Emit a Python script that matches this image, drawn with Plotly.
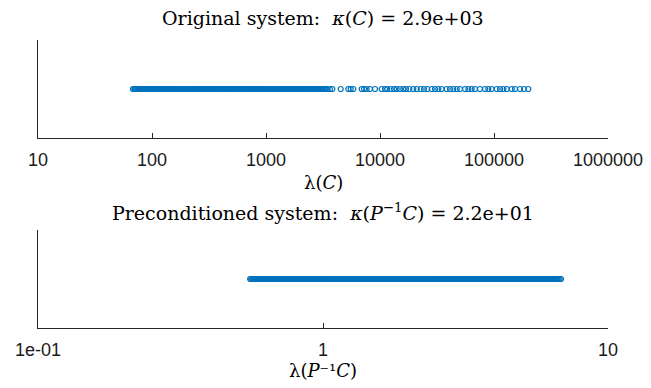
import plotly.graph_objects as go
from plotly.subplots import make_subplots

# Eigenvalues of the original system C
eig_C_dense = [68, 71, 73, 76, 79, 82, 85, 88, 92, 95, 99, 103, 107, 111, 116, 120, 125, 130,
               136, 141, 147, 153, 159, 166, 172, 180, 187, 195, 203, 211, 220, 229, 239, 249,
               259, 270, 281, 293, 305, 318, 331, 345, 359, 374, 390, 406, 423, 441, 459, 478,
               498, 519, 541, 563, 587, 611, 637, 663, 691, 720, 750, 781, 814, 848, 883, 920,
               958, 998, 1040, 1083, 1128, 1175, 1224, 1275, 1328, 1384, 1441, 1501, 1564, 1629,
               1697, 1768, 1842, 1918, 1998, 2082, 2168, 2259, 2353, 2451, 2553, 2660, 2770,
               2886, 3006, 3132, 3262, 3430]
eig_C_dense_b = [70, 72, 75, 78, 81, 84, 87, 90, 94, 97, 101, 105, 109, 114, 118, 123, 128,
                 133, 139, 144, 150, 156, 163, 169, 176, 184, 191, 199, 207, 216, 225, 234,
                 244, 254, 265, 276, 287, 299, 312, 325, 338, 352, 367, 382, 398, 415, 432,
                 450, 469, 488, 509, 530, 552, 575, 599, 624, 650, 677, 706, 735, 766, 798,
                 831, 866, 902, 939, 978, 1019, 1062, 1106, 1152, 1200, 1250, 1302, 1356, 1413,
                 1471, 1533, 1597, 1663, 1733, 1805, 1880, 1958, 2040, 2125, 2214, 2306, 2402,
                 2502, 2607, 2715, 2828, 2946, 3069, 3197, 3346]
eig_C_sparse = [3640, 3818, 4520, 5270, 5530, 5830, 6900, 7240, 7640, 8170, 9040, 10350,
                11070, 11590, 12410, 13270, 14000, 14960, 16000, 16900, 18070, 19590, 20990,
                22750, 24320, 26000, 28440, 30370, 32460, 34750, 38460, 41110, 43950, 47100,
                50350, 55700, 59560, 63680, 68080, 75340, 83370, 89130, 95490, 105660, 112980,
                120780, 129420, 143220, 152850, 169170, 183400, 199980]
eig_C = eig_C_dense + eig_C_dense_b + eig_C_sparse

# Eigenvalues of the preconditioned system P^-1 C
eig_PC_a = [0.555, 0.564, 0.573, 0.583, 0.592, 0.602, 0.612, 0.622, 0.632, 0.642, 0.653, 0.663,
            0.674, 0.685, 0.696, 0.708, 0.719, 0.731, 0.743, 0.755, 0.767, 0.780, 0.793, 0.805,
            0.819, 0.832, 0.846, 0.859, 0.873, 0.888, 0.902, 0.917, 0.932, 0.947, 0.962, 0.978,
            0.994, 1.010, 1.027, 1.044, 1.061, 1.078, 1.096, 1.113, 1.132, 1.150, 1.169, 1.188,
            1.207, 1.227, 1.247, 1.267, 1.288, 1.309, 1.330, 1.352, 1.374, 1.397, 1.419, 1.443,
            1.466, 1.490, 1.514, 1.539, 1.564, 1.590, 1.616, 1.642, 1.669, 1.696, 1.724, 1.752,
            1.780, 1.809, 1.839, 1.869, 1.899, 1.930, 1.962, 1.994, 2.026, 2.059, 2.093, 2.127,
            2.162, 2.197, 2.233, 2.269, 2.306, 2.344, 2.382, 2.421, 2.460, 2.500, 2.541, 2.583,
            2.625, 2.668, 2.711, 2.755, 2.800, 2.846, 2.892, 2.939, 2.987, 3.036, 3.085, 3.136,
            3.187, 3.239, 3.291, 3.345, 3.400, 3.455, 3.511, 3.569, 3.627, 3.686, 3.746, 3.807,
            3.869, 3.932, 3.996, 4.061, 4.127, 4.195, 4.263, 4.332, 4.403, 4.475, 4.548, 4.622,
            4.697, 4.774, 4.851, 4.930, 5.011, 5.093, 5.176, 5.260, 5.346, 5.433, 5.521, 5.611,
            5.703, 5.796, 5.890, 5.986, 6.084, 6.183, 6.284, 6.386, 6.490, 6.596, 6.704, 6.840]
eig_PC_b = [0.5595, 0.5685, 0.578, 0.5875, 0.597, 0.607, 0.617, 0.627, 0.637, 0.6475, 0.658,
            0.6685, 0.6795, 0.6905, 0.702, 0.7135, 0.725, 0.737, 0.749, 0.761, 0.7735, 0.7865,
            0.799, 0.812, 0.8255, 0.839, 0.8525, 0.866, 0.8805, 0.895, 0.9095, 0.9245, 0.9395,
            0.9545, 0.970, 0.986, 1.002, 1.0185, 1.0355, 1.0525, 1.0695, 1.087, 1.1045, 1.1225,
            1.141, 1.1595, 1.1785, 1.1975, 1.217, 1.237, 1.257, 1.2775, 1.2985, 1.3195, 1.341,
            1.363, 1.3855, 1.408, 1.431, 1.4545, 1.478, 1.502, 1.5265, 1.5515, 1.577, 1.603,
            1.629, 1.6555, 1.6825, 1.710, 1.738, 1.766, 1.7945, 1.824, 1.854, 1.884, 1.9145,
            1.946, 1.978, 2.010, 2.0425, 2.076, 2.110, 2.1445, 2.1795, 2.215, 2.251, 2.2875,
            2.325, 2.363, 2.4015, 2.4405, 2.480, 2.5205, 2.562, 2.604, 2.6465, 2.6895, 2.733,
            2.7775, 2.823, 2.869, 2.9155, 2.963, 3.0115, 3.0605, 3.1105, 3.1615, 3.213, 3.265,
            3.318, 3.3725, 3.4275, 3.483, 3.540, 3.598, 3.6565, 3.716, 3.7765, 3.838, 3.9005,
            3.964, 4.0285, 4.094, 4.161, 4.229, 4.2975, 4.3675, 4.439, 4.5115, 4.585, 4.6595,
            4.7355, 4.8125, 4.8905, 4.9705, 5.052, 5.1345, 5.218, 5.303, 5.3895, 5.477, 5.566,
            5.657, 5.7495, 5.843, 5.938, 6.035, 6.1335, 6.2335, 6.335, 6.438, 6.543, 6.650,
            6.772]
eig_PC = eig_PC_a + eig_PC_b

top_tickvals = [10, 100, 1000, 10000, 100000, 1000000]
top_ticktext = ["10", "100", "1000", "10000", "100000", "1000000"]
bot_tickvals = [0.1, 1, 10]
bot_ticktext = ["1e-01", "1", "10"]

title_top = "Original system:  <i>κ</i>(<i>C</i>) = 2.9e+03"
title_bot = "Preconditioned system:  <i>κ</i>(<i>P</i><sup>−1</sup><i>C</i>) = 2.2e+01"
xlab_top = "λ(<i>C</i>)"
xlab_bot = "λ(<i>P</i>⁻¹<i>C</i>)"

BLUE = "#0072BD"
AX = "#262626"
SERIF = "DejaVu Serif, Liberation Serif, serif"
SANS = "Liberation Sans, Arial, sans-serif"

# page body has an 8px margin: figure drawn 635x372 so the page fits the 651x388 window
W, H = 635, 372
L, R, T = 30, 35, 32
PB = 320               # plot-area bottom (px from figure top)
B = H - PB
PH = PB - T            # plot-area height in px

fig = make_subplots(rows=2, cols=1)

marker = dict(symbol="circle-open", size=5, color=BLUE, line=dict(width=1.2, color=BLUE))
fig.add_trace(go.Scatter(x=eig_C, y=[0] * len(eig_C), mode="markers", marker=marker,
                         showlegend=False, hoverinfo="x"), row=1, col=1)
fig.add_trace(go.Scatter(x=eig_PC, y=[0] * len(eig_PC), mode="markers", marker=marker,
                         showlegend=False, hoverinfo="x"), row=2, col=1)

xcommon = dict(type="log", showgrid=False, zeroline=False, showline=True, linecolor=AX,
               linewidth=1, ticks="inside", ticklen=5, tickcolor=AX, tickwidth=1,
               ticklabelstandoff=5, automargin=False, ticklabeloverflow="allow",
               tickfont=dict(family=SANS, size=18, color="#1a1a1a"), mirror=False)
fig.update_xaxes(xcommon)
fig.update_xaxes(range=[1, 6], tickvals=top_tickvals, ticktext=top_ticktext, row=1, col=1)
fig.update_xaxes(range=[-1, 1], tickvals=bot_tickvals, ticktext=bot_ticktext, row=2, col=1)
fig.update_yaxes(range=[-1, 1], showgrid=False, zeroline=False, showline=True, linecolor=AX,
                 linewidth=1, showticklabels=False, ticks="", automargin=False)

fig.update_layout(
    width=W, height=H,
    margin=dict(l=L, r=R, t=T, b=B, autoexpand=False),
    paper_bgcolor="white", plot_bgcolor="white",
    yaxis=dict(domain=[(PH - 98) / PH, 1.0]),
    yaxis2=dict(domain=[0.0, 98 / PH]),
)

def ann(text, ypix, size):
    fig.add_annotation(text=text, xref="paper", yref="paper", x=0.5, y=(PB - ypix) / PH,
                       showarrow=False, font=dict(family=SERIF, size=size, color="#000"),
                       xanchor="center", yanchor="middle")

ann(title_top, 10, 19)
ann(title_bot, 204, 19)
ann(xlab_top, 174, 18)
ann(xlab_bot, 362, 18)

fig.write_html("out.html")
